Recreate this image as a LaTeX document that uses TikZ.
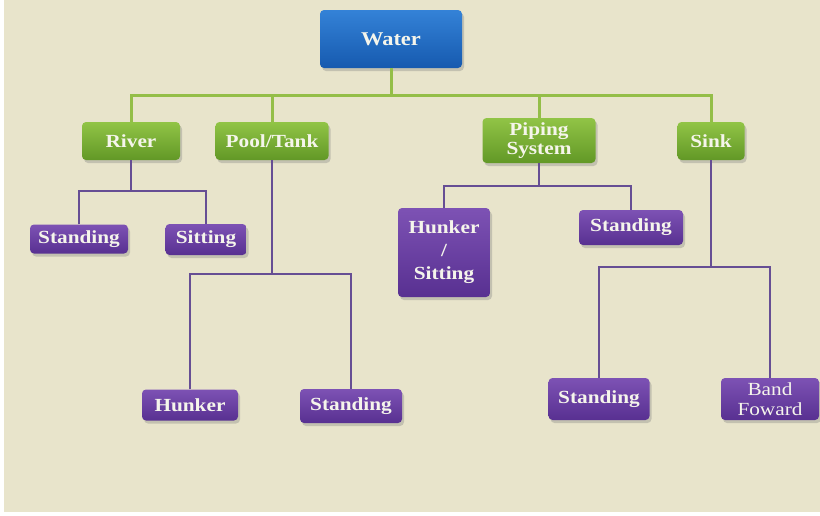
\documentclass[tikz,border=0pt]{standalone}
\usepackage{fontspec}
\setmainfont{Liberation Serif}[FakeStretch=1.15]
\usetikzlibrary{shadows}
\definecolor{bg}{RGB}{232,228,203}
\definecolor{gline}{RGB}{148,190,72}
\definecolor{pline}{RGB}{102,78,148}
\definecolor{btop}{RGB}{52,130,215}
\definecolor{bbot}{RGB}{22,90,175}
\definecolor{gtop}{RGB}{145,196,70}
\definecolor{gbot}{RGB}{98,152,38}
\definecolor{ptop}{RGB}{125,82,180}
\definecolor{pbot}{RGB}{88,48,145}
\definecolor{txt}{RGB}{245,245,235}
\begin{document}
\begin{tikzpicture}[x=1pt,y=-1pt,
  base/.style={rounded corners=4pt, inner sep=0pt, align=center, text=txt,
    font=\bfseries\fontsize{18.5}{18.5}\selectfont,
    drop shadow={shadow xshift=2pt, shadow yshift=-3pt, opacity=0.35}},
  bluebox/.style={base, top color=btop, bottom color=bbot, font=\bfseries\fontsize{19.5}{19.5}\selectfont},
  greenbox/.style={base, top color=gtop, bottom color=gbot},
  purplebox/.style={base, top color=ptop, bottom color=pbot},
  gconn/.style={draw=gline, line width=3pt},
  pconn/.style={draw=pline, line width=2.6pt}]
\useasboundingbox (0,0) rectangle (820,515);
\fill[white] (0,0) rectangle (820,515);
\fill[bg] (4,0) rectangle (820,512);

% level 0
\node[bluebox, minimum width=142pt, minimum height=58pt] (water) at (391,39) {Water};

% level 1
\node[greenbox, minimum width=98pt, minimum height=38pt] (river) at (131,141) {River};
\node[greenbox, minimum width=113pt, minimum height=38pt] (pool) at (272,141) {Pool/Tank};
\node[greenbox, minimum width=113pt, minimum height=45pt, font=\bfseries\fontsize{18.5}{18.5}\selectfont] (piping) at (539,140.5) {Piping\\System};
\node[greenbox, minimum width=67pt, minimum height=38pt] (sink) at (711,141) {Sink};

% level 2
\node[purplebox, minimum width=98pt, minimum height=29pt] (rstand) at (79,239) {Standing};
\node[purplebox, minimum width=81pt, minimum height=31pt] (rsit) at (206,239.5) {Sitting};
\node[purplebox, minimum width=96pt, minimum height=31pt] (phunk) at (190,405) {Hunker};
\node[purplebox, minimum width=102pt, minimum height=34pt] (pstand) at (351,406) {Standing};
\node[purplebox, minimum width=92pt, minimum height=89pt, font=\bfseries\fontsize{18.5}{23}\selectfont] (hs) at (444,252.5) {Hunker\\/\\Sitting};
\node[purplebox, minimum width=104pt, minimum height=35pt] (sstand) at (631,227.5) {Standing};
\node[purplebox, minimum width=101pt, minimum height=42pt] (kstand) at (599,399) {Standing};
\node[purplebox, minimum width=98pt, minimum height=42pt, font=\fontsize{18.5}{20}\selectfont] (band) at (770,399) {Band\\Foward};

% green connectors
\coordinate (gb) at (391,95);
\draw[gconn] (water.south) -- (gb);
\draw[gconn] (river.north) |- (gb) -| (sink.north);
\draw[gconn] (pool.north) -- (pool.north |- gb);
\draw[gconn] (piping.north) -- (piping.north |- gb);

% purple connectors
\coordinate (rb) at (131,191);
\draw[pconn] (river.south) -- (rb);
\draw[pconn] (rstand.north) |- (rb) -| (rsit.north);

\coordinate (pb) at (272,274);
\draw[pconn] (pool.south) -- (pb);
\draw[pconn] (phunk.north) |- (pb) -| (pstand.north);

\coordinate (sb) at (539,186);
\draw[pconn] (piping.south) -- (sb);
\draw[pconn] (hs.north) |- (sb) -| (sstand.north);

\coordinate (kb) at (711,267);
\draw[pconn] (sink.south) -- (kb);
\draw[pconn] (kstand.north) |- (kb) -| (band.north);
\end{tikzpicture}
\end{document}
